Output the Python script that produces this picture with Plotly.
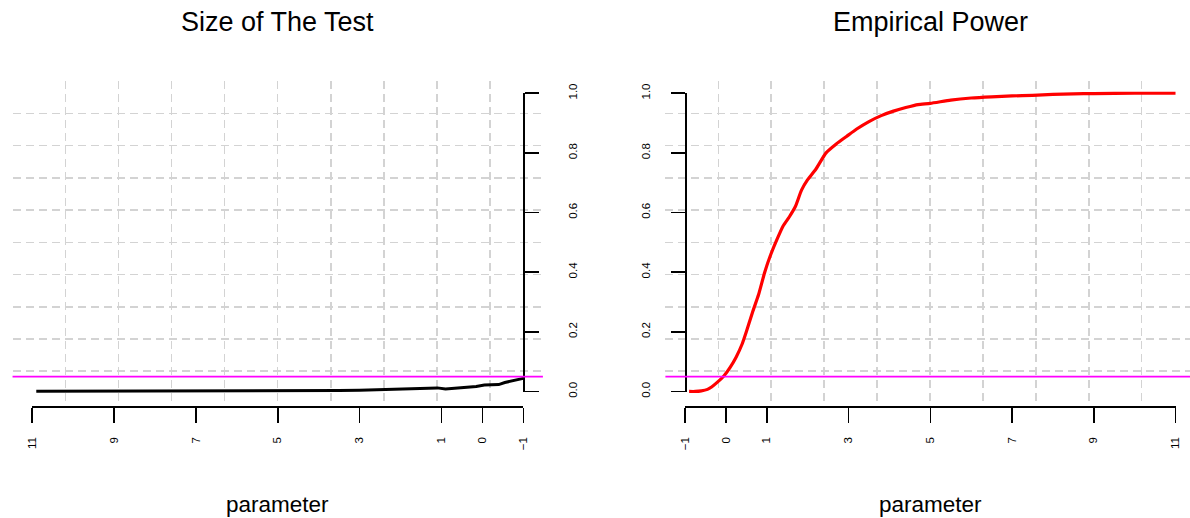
import plotly.graph_objects as go

# ---------------- data ----------------
size_x = [10.9, 10.0, 9.0, 8.0, 7.0, 6.0, 5.0, 4.5, 4.0, 3.5, 3.0, 2.5, 2.0, 1.6, 1.1,
          0.9, 0.7, 0.45, 0.15, -0.05, -0.2, -0.4, -0.55, -0.7, -0.85, -1.0]
size_y = [0.0005, 0.0005, 0.0008, 0.0010, 0.0012, 0.0015, 0.0020, 0.0020, 0.0025, 0.0030,
          0.0040, 0.0060, 0.0070, 0.0090, 0.0120, 0.0080, 0.0100, 0.0120, 0.0170, 0.0220,
          0.0230, 0.0230, 0.0300, 0.0350, 0.0400, 0.0440]

power_x = [-0.9, -0.75, -0.6, -0.45, -0.35, -0.2, -0.05, 0.1, 0.25, 0.4, 0.5, 0.65, 0.8,
           0.95, 1.1, 1.25, 1.4, 1.55, 1.7, 1.85, 2.0, 2.2, 2.45, 2.7, 2.95, 3.2, 3.5,
           3.8, 4.1, 4.4, 4.7, 5.0, 5.5, 6.0, 6.5, 7.0, 7.5, 8.0, 8.5, 9.0, 10.0, 11.0]
power_y = [0.0, 0.0, 0.002, 0.007, 0.015, 0.032, 0.052, 0.08, 0.115, 0.16, 0.2, 0.265,
           0.325, 0.4, 0.46, 0.51, 0.555, 0.585, 0.62, 0.675, 0.71, 0.745, 0.8, 0.83,
           0.855, 0.88, 0.905, 0.925, 0.94, 0.952, 0.962, 0.966, 0.977, 0.984, 0.988,
           0.991, 0.993, 0.996, 0.998, 0.999, 1.0, 1.0]

alpha = 0.05
left_xticks = [11, 9, 7, 5, 3, 1, 0, -1]
right_xticks = [-1, 0, 1, 3, 5, 7, 9, 11]
yticks = [0.0, 0.2, 0.4, 0.6, 0.8, 1.0]
grid_ticks = [1, 2, 3, 4, 5, 6, 7, 8, 9]

titles = ["Size of The Test", "Empirical Power"]
xlabel = "parameter"

# ---------------- layout geometry (pixels -> paper) ----------------
W, H = 1190, 518
FONT = "Liberation Sans, Arial, Helvetica, sans-serif"


def px(v):
    return v / W


def py(v):
    return (H - v) / H


reg_y = [py(403.4), py(81.3)]          # plot region (usr)
axis_y_dom = [py(391.5), py(93.2)]     # y axis line span 0..1
xaxis_pos = py(406)

L_reg = [px(12.55), px(542.9)]
L_axis = [px(32.2), px(523.3)]
R_reg = [px(665.4), 1.0]
R_axis = [px(685.0), px(1175.5)]
R_xmax = -1.48 + (W - 665.4) / 40.875

GRID = dict(showgrid=True, gridcolor="#d3d3d3", gridwidth=1.5, griddash="8px,5px",
            showline=False, zeroline=False, ticks="", showticklabels=False,
            tickmode="array", tickvals=grid_ticks, fixedrange=True, automargin=False)
DECO = dict(showline=True, linecolor="black", linewidth=1.5, ticks="outside",
            tickcolor="black", tickwidth=1.5, showgrid=False, zeroline=False,
            tickmode="array", tickangle=-90, fixedrange=True, automargin=False,
            tickfont=dict(family=FONT, size=11.5, color="black"))

fig = go.Figure()

# dummy traces to materialise grid and decorative subplots
for xa, ya in [("x", "y"), ("x3", "y3"), ("x4", "y4"), ("x6", "y6")]:
    fig.add_trace(go.Scatter(x=[None], y=[None], xaxis=xa, yaxis=ya, showlegend=False,
                             hoverinfo="skip", mode="lines"))

fig.add_trace(go.Scatter(x=size_x, y=size_y, xaxis="x2", yaxis="y2", mode="lines",
                         line=dict(color="black", width=3), showlegend=False))
fig.add_trace(go.Scatter(x=power_x, y=power_y, xaxis="x5", yaxis="y5", mode="lines",
                         line=dict(color="#ff0000", width=3.2, shape="spline", smoothing=0.5),
                         showlegend=False))

fig.update_layout(
    width=W, height=H, margin=dict(l=0, r=0, t=0, b=0, pad=0, autoexpand=False),
    paper_bgcolor="white", plot_bgcolor="rgba(0,0,0,0)", showlegend=False,
    # left panel grid
    xaxis=dict(domain=L_reg, range=[0, 10], anchor="y", **GRID),
    yaxis=dict(domain=reg_y, range=[0, 10], anchor="x", **GRID),
    # left panel data
    xaxis2=dict(overlaying="x", range=[11.48, -1.48], visible=False, anchor="y2", automargin=False),
    yaxis2=dict(overlaying="y", range=[-0.04, 1.04], visible=False, anchor="x2", automargin=False),
    # left panel axes
    xaxis3=dict(domain=L_axis, range=[11, -1], anchor="free", position=xaxis_pos,
                tickvals=left_xticks, ticklen=15, ticklabelstandoff=10, **DECO),
    yaxis3=dict(domain=axis_y_dom, range=[0, 1], anchor="free", position=L_axis[1],
                side="right", tickvals=yticks, tickformat=".1f", ticklen=14,
                ticklabelstandoff=24, **DECO),
    # right panel grid
    xaxis4=dict(domain=R_reg, range=[0, 10 * (W - 665.4) / (1194.6 - 665.4)], anchor="y4", **GRID),
    yaxis4=dict(domain=reg_y, range=[0, 10], anchor="x4", **GRID),
    # right panel data
    xaxis5=dict(overlaying="x4", range=[-1.48, R_xmax], visible=False, anchor="y5", automargin=False),
    yaxis5=dict(overlaying="y4", range=[-0.04, 1.04], visible=False, anchor="x5", automargin=False),
    # right panel axes
    xaxis6=dict(domain=R_axis, range=[-1, 11], anchor="free", position=xaxis_pos,
                tickvals=right_xticks, ticklen=15, ticklabelstandoff=10, **DECO),
    yaxis6=dict(domain=axis_y_dom, range=[0, 1], anchor="free", position=R_axis[0],
                side="left", tickvals=yticks, tickformat=".1f", ticklen=14,
                ticklabelstandoff=16, **DECO),
)

# alpha reference lines (abline)
for xr, yr in [("x domain", "y2"), ("x4 domain", "y5")]:
    fig.add_shape(type="line", xref=xr, yref=yr, x0=0, x1=1, y0=alpha, y1=alpha,
                  line=dict(color="#ff00ff", width=1.8))

# titles and axis labels
centers = [(L_reg[0] + L_reg[1]) / 2, px((665.4 + 1194.6) / 2)]
for c, t in zip(centers, titles):
    fig.add_annotation(text=t, x=c, y=py(22), xref="paper", yref="paper",
                       xanchor="center", yanchor="middle", showarrow=False,
                       font=dict(family=FONT, size=27, color="black"))
    fig.add_annotation(text=xlabel, x=c, y=py(504), xref="paper", yref="paper",
                       xanchor="center", yanchor="middle", showarrow=False,
                       font=dict(family=FONT, size=22.5, color="black"))

fig.write_html(
    "out.html",
    config={"displayModeBar": False, "staticPlot": True},
    post_script="document.body.style.margin='0';document.body.style.overflow='hidden';",
)
